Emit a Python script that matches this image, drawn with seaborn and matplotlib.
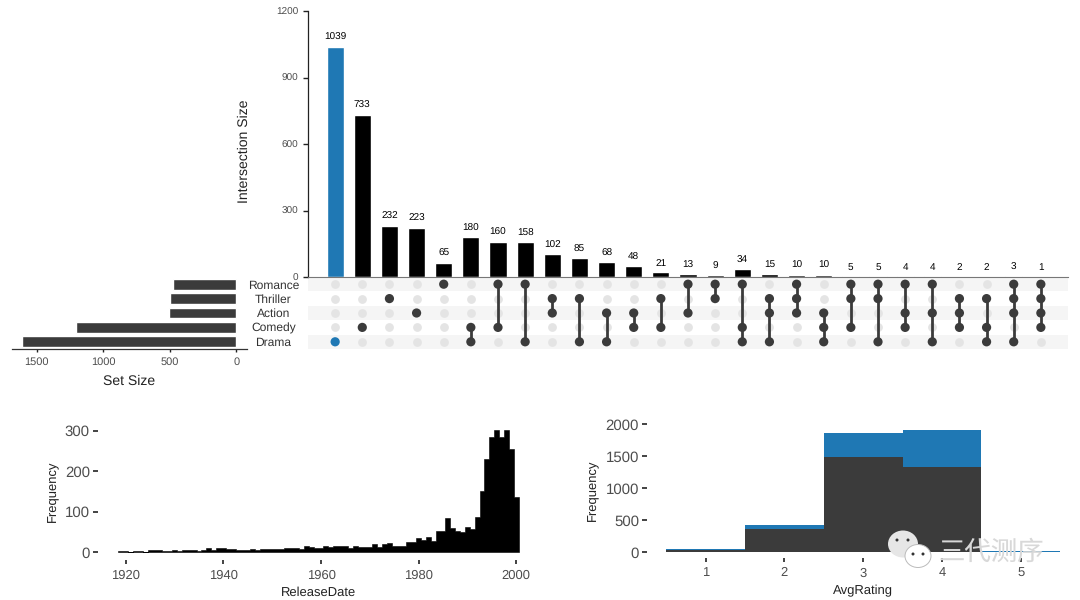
import numpy as np
import pandas as pd
import matplotlib
matplotlib.use("Agg")
import matplotlib.pyplot as plt
from matplotlib.patches import Ellipse
import seaborn as sns

sns.set_theme(style="white")
plt.rcParams['font.family'] = ['Liberation Sans', 'Noto Sans CJK SC', 'DejaVu Sans']
plt.rcParams['text.hinting'] = 'no_hinting'
plt.rcParams['text.hinting_factor'] = 1

# ---- data ----
genres = ["Romance", "Thriller", "Action", "Comedy", "Drama"]
set_sizes = [475, 500, 510, 1205, 1610]
intersection_sizes = [1039, 733, 232, 223, 65, 180, 160, 158, 102, 85, 68, 48, 21, 13, 9,
                      34, 15, 10, 10, 5, 5, 4, 4, 2, 2, 3, 1]
memberships = ["D", "C", "T", "A", "R", "CD", "RC", "RD", "TA", "TD", "AD", "AC", "TC", "RA", "RT",
               "RCD", "TAD", "RTA", "ACD", "RTC", "RTD", "RAC", "RAD", "TAC", "TCD", "RTAD", "RTAC"]
genre_keys = ["R", "T", "A", "C", "D"]

release_years = list(range(1919, 2001))
release_counts = [3, 2, 1, 2, 3, 0, 5, 5, 5, 3, 3, 4, 3, 6, 4, 4, 3, 5, 10, 5, 9,
                  11, 8, 8, 4, 4, 6, 8, 6, 8, 8, 7, 8, 8, 9, 9, 10, 8, 14, 13, 9,
                  9, 14, 13, 16, 14, 14, 9, 16, 13, 13, 13, 19, 13, 19, 22, 16, 16, 14, 24, 26,
                  34, 30, 38, 27, 53, 51, 85, 60, 52, 49, 63, 56, 87, 150, 231, 285, 302, 285,
                  302, 254, 137]
ratings = [1, 2, 3, 4, 5]
rating_other = [30, 365, 1485, 1339, 10]
rating_drama = [17, 62, 375, 573, 16]

W, H = 1080, 600
DARK = "#3b3b3b"
BLUE = "#1f78b4"
GREY_TXT = "#4d4d4d"


def axes_px(fig, left, top, right, bottom):
    return fig.add_axes([left / W, 1 - bottom / H, (right - left) / W, (bottom - top) / H])


fig = plt.figure(figsize=(W / 100, H / 100), dpi=100, facecolor="white")

# ---- intersection bars ----
ax_top = axes_px(fig, 308, 11, 1068, 277)
ids = [str(i) for i in range(len(intersection_sizes))]
hl = ["drama"] + ["other"] * (len(ids) - 1)
sns.barplot(x=ids, y=intersection_sizes, hue=hl, palette={"drama": BLUE, "other": "black"},
            order=ids, dodge=False, legend=False, width=0.63, saturation=1, ax=ax_top)
for i, v in enumerate(intersection_sizes):
    ax_top.annotate(str(v), (i, v), xytext=(0, 6.5), textcoords="offset points", ha="center",
                    va="center", fontsize=7.5, color="black")
ax_top.set_xlim(-1, 27)
ax_top.set_ylim(0, 1200)
ax_top.set_yticks([0, 300, 600, 900, 1200])
ax_top.set_xticks([])
ax_top.set_xlabel("")
ax_top.set_ylabel("Intersection Size", fontsize=10.2, color="#222222", labelpad=18, y=0.472)
ax_top.tick_params(axis="y", left=True, length=3.6, width=1.0, color="#222222", pad=3.5,
                   labelsize=7.0, labelcolor=GREY_TXT)
sns.despine(ax=ax_top)
ax_top.spines["left"].set_color("#222222")
ax_top.spines["left"].set_linewidth(0.9)
ax_top.spines["bottom"].set_color("#777777")
ax_top.spines["bottom"].set_linewidth(0.8)

# ---- matrix ----
ax_m = axes_px(fig, 308, 277, 1068, 349)
ax_m.set_zorder(-1)
for r in (0, 2, 4):
    ax_m.axhspan(r - 0.5, r + 0.5, color="#f5f5f5", lw=0, zorder=0)
rows = []
for c, m in enumerate(memberships):
    for r, g in enumerate(genre_keys):
        rows.append({"col": c, "row": r, "state": ("hl" if m == "D" else "on") if g in m else "off"})
grid = pd.DataFrame(rows)
on = grid[grid.state != "off"]
off = grid[grid.state == "off"]
sns.scatterplot(data=off, x="col", y="row", color="#e4e4e4", s=40, linewidth=0,
                legend=False, ax=ax_m, zorder=1)
for c, part in on.groupby("col"):
    if len(part) > 1:
        sns.lineplot(x=[c, c], y=[part.row.min(), part.row.max()], color=DARK, lw=2.0,
                     estimator=None, errorbar=None, ax=ax_m, zorder=2)
sns.scatterplot(data=on, x="col", y="row", hue="state",
                palette={"on": DARK, "hl": BLUE}, s=44, linewidth=0,
                legend=False, ax=ax_m, zorder=3)
ax_m.set_xlim(-1, 27)
ax_m.set_ylim(4.5, -0.5)
ax_m.set_xticks([])
ax_m.set_xlabel("")
ax_m.set_ylabel("")
ax_m.set_yticks(range(5))
ax_m.set_yticklabels(genres, ha="center", fontsize=8.3, color="#333333")
ax_m.tick_params(axis="y", length=0, pad=25)
sns.despine(ax=ax_m, left=True, bottom=True)

# ---- set size ----
ax_s = axes_px(fig, 12, 277, 247, 349)
sns.barplot(x=set_sizes, y=genres, order=genres, color=DARK, saturation=1, orient="h",
            width=0.76, ax=ax_s)
ax_s.set_xlim(1686, -79)
ax_s.set_ylim(4.5, -0.5)
ax_s.set_xticks([1500, 1000, 500, 0])
ax_s.set_yticks([])
ax_s.set_ylabel("")
ax_s.set_xlabel("Set Size", fontsize=9.8, color="#222222", labelpad=5.5)
ax_s.tick_params(axis="x", bottom=True, length=2.5, width=1.0, color="#222222", pad=3,
                 labelsize=7.8, labelcolor=GREY_TXT)
sns.despine(ax=ax_s, left=True)
ax_s.spines["bottom"].set_color("#333333")
ax_s.spines["bottom"].set_linewidth(0.9)

# ---- release date histogram ----
ax_r = axes_px(fig, 98, 422, 525, 560)
year_edges = (np.arange(release_years[0], release_years[-1] + 2) - 0.5).tolist()
sns.histplot(x=release_years, weights=release_counts, bins=year_edges, element="step",
             color="black", alpha=1, linewidth=0.4, edgecolor="black", ax=ax_r)
ax_r.set_xlim(1914.3, 2001.8)
ax_r.set_ylim(-19.8, 322)
ax_r.set_xticks([1920, 1940, 1960, 1980, 2000])
ax_r.set_yticks([0, 100, 200, 300])
ax_r.set_xlabel("ReleaseDate", fontsize=9.6, color="#222222", labelpad=4, x=0.5176)
ax_r.set_ylabel("Frequency", fontsize=9.6, color="#222222", labelpad=4)

# ---- rating histogram ----
ax_a = axes_px(fig, 647, 418, 1068, 558)
rating_edges = np.arange(0.5, 6.0).tolist()
rating_df = pd.DataFrame({
    "rating": ratings * 2,
    "count": rating_other + rating_drama,
    "group": ["other"] * 5 + ["drama"] * 5,
})
sns.histplot(data=rating_df, x="rating", weights="count", hue="group", bins=rating_edges,
             hue_order=["drama", "other"], palette={"drama": BLUE, "other": DARK},
             multiple="stack", element="step", alpha=1, linewidth=0, legend=False, ax=ax_a)
ax_a.set_xlim(0.255, 5.6)
ax_a.set_ylim(-89, 2100)
ax_a.set_xticks(ratings)
ax_a.set_yticks([0, 500, 1000, 1500, 2000])
ax_a.set_xlabel("AvgRating", fontsize=9.6, color="#222222", labelpad=4, x=0.513)
ax_a.set_ylabel("Frequency", fontsize=9.6, color="#222222", labelpad=5, y=0.485)

for ax in (ax_r, ax_a):
    sns.despine(ax=ax, left=True, bottom=True)
    ax.tick_params(axis="x", bottom=True, length=3, width=1.2, color="#222222",
                   pad=3.5, labelsize=9.6, labelcolor=GREY_TXT)
    ax.tick_params(axis="y", left=True, length=3.6, width=1.2, color="#222222",
                   pad=2.2, labelsize=10.6, labelcolor=GREY_TXT)

# ---- watermark ----
ov = fig.add_axes([0, 0, 1, 1], facecolor="none")
ov.set_xlim(0, W)
ov.set_ylim(H, 0)
ov.axis("off")
ov.add_patch(Ellipse((903, 544), 30, 27, fc="#e6e6e6", ec="none"))
ov.add_patch(Ellipse((918, 556), 26, 23, fc="white", ec="#bbbbbb", lw=0.7))
for x, y in [(897, 540), (908, 540), (913, 554), (923, 554)]:
    ov.add_patch(Ellipse((x, y), 3, 3, fc="#333333", ec="none"))
ov.text(991, 552, "三代测序", ha="center", va="center", fontsize=19, color="#d8d8d8",
        family=["Noto Sans CJK SC", "DejaVu Sans"])

fig.savefig("out.png", dpi=100, facecolor="white")
